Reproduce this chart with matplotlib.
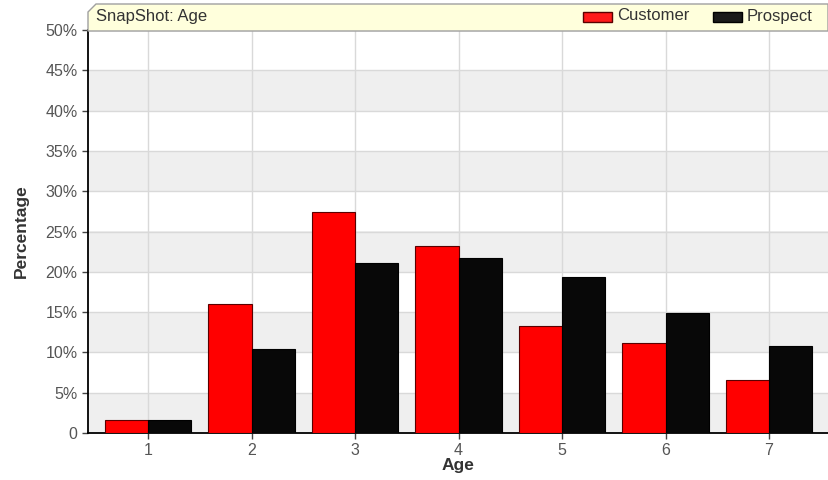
import numpy as np
import matplotlib
matplotlib.use('Agg')
from matplotlib import pyplot as plt
from matplotlib.patches import Polygon, Rectangle

plt.rcParams['font.family'] = ['Liberation Sans', 'DejaVu Sans']

categories = ['1', '2', '3', '4', '5', '6', '7']
customer = [1.6, 16.0, 27.4, 23.2, 13.3, 11.2, 6.6]
prospect = [1.6, 10.4, 21.1, 21.7, 19.4, 14.9, 10.8]
yticks = [0, 5, 10, 15, 20, 25, 30, 35, 40, 45, 50]
ytick_labels = ['0'] + ['%d%%' % t for t in yticks[1:]]

W, H = 829, 480
fig = plt.figure(figsize=(W / 100, H / 100), dpi=100)
ax = fig.add_axes([88 / W, 47 / H, (828 - 88) / W, (433 - 30) / H])

x = np.arange(1, len(categories) + 1)
bw = 0.42

# alternating bands
for i, lo in enumerate(yticks[:-1]):
	if i % 2 == 0:
		ax.axhspan(lo, lo + 5, color='#efefef', zorder=0, lw=0)
for t in yticks[1:]:
	ax.axhline(t, color='#d9d9d9', lw=1, zorder=1)
for xi in x:
	ax.axvline(xi, color='#d9d9d9', lw=1, zorder=1)

ax.bar(x - bw / 2, customer, bw, color='#ff0000', edgecolor='#5a0000', lw=0.8, zorder=3)
ax.bar(x + bw / 2, prospect, bw, color='#080808', edgecolor='#000000', lw=0.8, zorder=3)

ax.set_xlim(0.42, 7.57)
ax.set_ylim(0, 50)
ax.set_xticks(x)
ax.set_xticklabels(categories)
ax.set_yticks(yticks)
ax.set_yticklabels(ytick_labels)
ax.tick_params(colors='#444444', labelsize=11.5, length=4, width=1)
for t in ax.get_xticklabels() + ax.get_yticklabels():
	t.set_color('#555555')
ax.spines['top'].set_visible(False)
ax.spines['right'].set_visible(False)
ax.spines['left'].set_color('black')
ax.spines['bottom'].set_color('black')
ax.spines['left'].set_linewidth(1.3)
ax.spines['bottom'].set_linewidth(1.3)
ax.set_xlabel('Age', fontsize=12.5, fontweight='bold', color='#333333', labelpad=0)
ax.set_ylabel('Percentage', fontsize=12.5, fontweight='bold', color='#333333', labelpad=12)

# title box with chamfered top-left corner
def fx(px):
	return px / W
def fy(py):
	return 1 - py / H
box = Polygon([(fx(88), fy(31)), (fx(88), fy(12)), (fx(96), fy(4)),
	(fx(828), fy(4)), (fx(828), fy(31))], closed=True,
	transform=fig.transFigure, facecolor='#ffffdc', edgecolor='#a0a0a0', lw=1, zorder=5)
fig.patches.append(box)
fig.text(fx(96), fy(17), 'SnapShot: Age', fontsize=12, color='#333333', va='center', ha='left', zorder=7)

fig.patches.append(Rectangle((fx(583), fy(22)), fx(29), 10 / H, transform=fig.transFigure,
	facecolor='#ff1a1a', edgecolor='#5a0000', lw=1, zorder=6))
fig.text(fx(617), fy(16), 'Customer', fontsize=12, color='#333333', va='center', ha='left', zorder=7)
fig.patches.append(Rectangle((fx(713), fy(22)), fx(29), 10 / H, transform=fig.transFigure,
	facecolor='#1a1a1a', edgecolor='#000000', lw=1, zorder=6))
fig.text(fx(747), fy(16), 'Prospect', fontsize=12, color='#333333', va='center', ha='left', zorder=7)

fig.savefig('out.png', dpi=100)
